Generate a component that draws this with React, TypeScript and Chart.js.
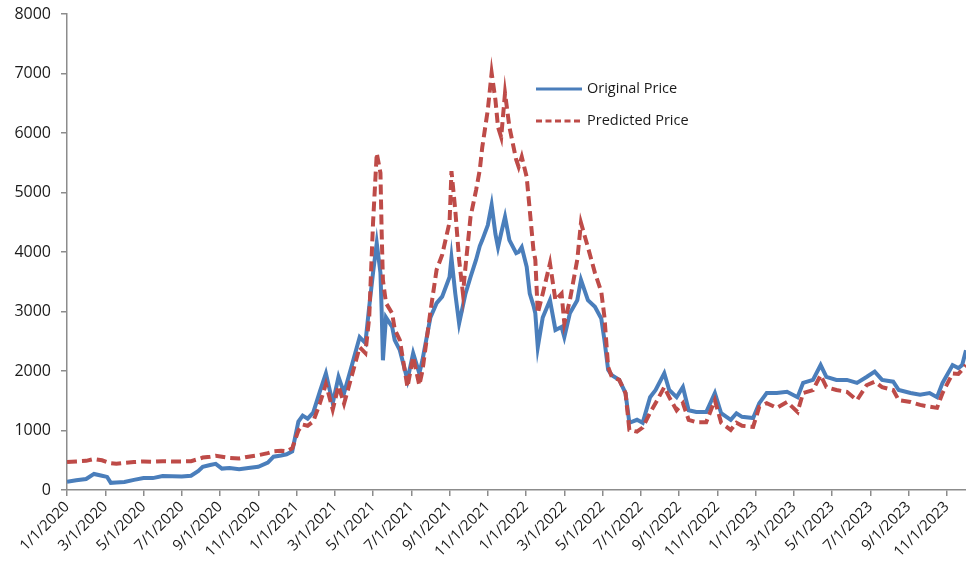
import React, { useEffect, useRef } from "react";
import { Chart, registerables } from "chart.js";

Chart.register(...registerables);

// ---- data ----
const dates: string[] = [
  "2020-01-01", "2020-01-16", "2020-02-01", "2020-02-13", "2020-02-25", "2020-03-04", "2020-03-10", "2020-03-19",
  "2020-04-01", "2020-04-16", "2020-05-01", "2020-05-16", "2020-06-01", "2020-06-16", "2020-07-01", "2020-07-16",
  "2020-07-28", "2020-08-04", "2020-08-16", "2020-08-25", "2020-09-04", "2020-09-16", "2020-10-01", "2020-10-16",
  "2020-11-01", "2020-11-16", "2020-11-25", "2020-12-07", "2020-12-16", "2020-12-25",
  "2021-01-04", "2021-01-11", "2021-01-19", "2021-01-28", "2021-02-07", "2021-02-16", "2021-02-26", "2021-03-07",
  "2021-03-16", "2021-03-28", "2021-04-10", "2021-04-19", "2021-04-25", "2021-05-01", "2021-05-07", "2021-05-13",
  "2021-05-15", "2021-05-17", "2021-05-22", "2021-06-01", "2021-06-05", "2021-06-13", "2021-06-25", "2021-07-04",
  "2021-07-14", "2021-07-19", "2021-08-01", "2021-08-11", "2021-08-20", "2021-09-01", "2021-09-04", "2021-09-10",
  "2021-09-16", "2021-09-22", "2021-09-26", "2021-10-04", "2021-10-13", "2021-10-19", "2021-10-23", "2021-11-01",
  "2021-11-07", "2021-11-13", "2021-11-17", "2021-11-22", "2021-11-28", "2021-12-05", "2021-12-16", "2021-12-20",
  "2021-12-25", "2022-01-02", "2022-01-07", "2022-01-13", "2022-01-16", "2022-01-20", "2022-01-28", "2022-02-08",
  "2022-02-16", "2022-02-25", "2022-03-01", "2022-03-10", "2022-03-22", "2022-03-28", "2022-04-08", "2022-04-19",
  "2022-04-29", "2022-05-04", "2022-05-10", "2022-05-16", "2022-05-28", "2022-06-07", "2022-06-13", "2022-06-25",
  "2022-07-04", "2022-07-16", "2022-07-25", "2022-08-08", "2022-08-16", "2022-08-28", "2022-09-07", "2022-09-16",
  "2022-09-28", "2022-10-14", "2022-10-28", "2022-11-07", "2022-11-22", "2022-12-01", "2022-12-10", "2022-12-28",
  "2023-01-07", "2023-01-19", "2023-02-04", "2023-02-19", "2023-03-07", "2023-03-16", "2023-04-01", "2023-04-13",
  "2023-04-22", "2023-05-08", "2023-05-25", "2023-06-10", "2023-06-25", "2023-07-08", "2023-07-20", "2023-08-07",
  "2023-08-16", "2023-09-04", "2023-09-19", "2023-10-04", "2023-10-16", "2023-10-25", "2023-11-10", "2023-11-19",
  "2023-11-25", "2023-12-01",
];

const originalPrice: number[] = [
  140, 165, 185, 270, 240, 220, 120, 125,
  135, 170, 200, 200, 235, 230, 225, 240,
  320, 390, 420, 440, 360, 370, 350, 370,
  390, 460, 560, 580, 600, 650,
  1150, 1250, 1200, 1300, 1650, 1960, 1460, 1900,
  1630, 2070, 2570, 2470, 3080, 3650, 4150, 3650,
  3000, 2180, 2900, 2740, 2520, 2350, 1850, 2300,
  1960, 2180, 2900, 3140, 3250, 3580, 3900, 3300,
  2800, 3100, 3300, 3580, 3870, 4100, 4200, 4450,
  4790, 4300, 4080, 4320, 4590, 4200, 3980, 4000,
  4080, 3750, 3300, 3100, 2970, 2400, 2900, 3190,
  2690, 2740, 2570, 2970, 3190, 3530, 3190, 3080,
  2880, 2520, 2020, 1930, 1850, 1630, 1130, 1180,
  1130, 1560, 1680, 1960, 1680, 1560, 1730, 1340,
  1310, 1310, 1630, 1290, 1180, 1290, 1230, 1210,
  1460, 1630, 1630, 1650, 1560, 1800, 1850, 2100,
  1900, 1850, 1850, 1800, 1900, 1990, 1850, 1820,
  1680, 1630, 1600, 1630, 1560, 1800, 2100, 2050,
  2100, 2350,
];

const predictedPrice: number[] = [
  470, 480, 490, 520, 500, 470, 450, 440,
  455, 470, 480, 475, 485, 480, 480, 485,
  520, 545, 560, 575, 560, 540, 530, 560,
  585, 620, 650, 660, 650, 700,
  1000, 1100, 1080, 1150, 1450, 1780, 1350, 1750,
  1450, 1900, 2400, 2300, 2900, 4490, 5660, 5330,
  4320, 3530, 3140, 2970, 2700, 2520, 1730, 2240,
  1760, 2000, 3000, 3700, 3950, 4500, 5360, 4700,
  3870, 3300, 3750, 4590, 5040, 5380, 5760, 6390,
  7010, 6550, 6100, 5930, 6670, 6100, 5550, 5430,
  5600, 5260, 4700, 4030, 3870, 2970, 3300, 3810,
  3190, 3300, 2800, 3190, 3870, 4490, 4080, 3650,
  3330, 2910, 2070, 1900, 1850, 1630, 1010, 980,
  1050, 1300, 1460, 1730, 1560, 1340, 1460, 1180,
  1140, 1140, 1510, 1130, 1010, 1130, 1080, 1060,
  1400, 1460, 1380, 1480, 1310, 1630, 1680, 1930,
  1730, 1680, 1650, 1510, 1760, 1820, 1730, 1680,
  1510, 1480, 1430, 1400, 1380, 1630, 1960, 1950,
  2020, 2100,
];

const xTickLabels: string[] = [
  "1/1/2020", "3/1/2020", "5/1/2020", "7/1/2020", "9/1/2020", "11/1/2020",
  "1/1/2021", "3/1/2021", "5/1/2021", "7/1/2021", "9/1/2021", "11/1/2021",
  "1/1/2022", "3/1/2022", "5/1/2022", "7/1/2022", "9/1/2022", "11/1/2022",
  "1/1/2023", "3/1/2023", "5/1/2023", "7/1/2023", "9/1/2023", "11/1/2023",
];

const seriesNames: string[] = ["Original Price", "Predicted Price"];
const yTicks: number[] = [0, 1000, 2000, 3000, 4000, 5000, 6000, 7000, 8000];
const xEnd = "2023-12-01";

// ---- helpers ----
function monthIndexFromParts(y: number, m: number, d: number): number {
  const dim = new Date(y, m, 0).getDate();
  return (y - 2020) * 12 + (m - 1) + (d - 1) / dim;
}
function isoToIndex(iso: string): number {
  const [y, m, d] = iso.split("-").map(Number);
  return monthIndexFromParts(y, m, d);
}
function labelToIndex(lbl: string): number {
  const [m, d, y] = lbl.split("/").map(Number);
  return monthIndexFromParts(y, m, d);
}

const FONT = '"Open Sans", "DejaVu Sans", sans-serif';
const BLUE = "#4A7EBB";
const RED = "#BE4B48";

const insideLegend = {
  id: "insideLegend",
  afterDraw(chart: any) {
    const ctx = chart.ctx as CanvasRenderingContext2D;
    chart.data.datasets.forEach((ds: any, i: number) => {
      const y = 89 + i * 32;
      ctx.save();
      ctx.strokeStyle = ds.borderColor;
      ctx.lineWidth = 3;
      ctx.setLineDash(ds.borderDash ? [6, 3.5] : []);
      ctx.beginPath();
      ctx.moveTo(536, y);
      ctx.lineTo(582, y);
      ctx.stroke();
      ctx.setLineDash([]);
      ctx.fillStyle = "#1a1a1a";
      ctx.font = `14.5px ${FONT}`;
      ctx.textBaseline = "middle";
      ctx.textAlign = "left";
      ctx.fillText(ds.label, 587, y);
      ctx.restore();
    });
  },
};

export default function App() {
  const canvasRef = useRef<HTMLCanvasElement | null>(null);

  useEffect(() => {
    if (!canvasRef.current) return;
    const tickValues = xTickLabels.map(labelToIndex);
    const labelFor = (v: number) => {
      const k = tickValues.findIndex((t) => Math.abs(t - v) < 1e-6);
      return k >= 0 ? xTickLabels[k] : "";
    };
    const xs = dates.map(isoToIndex);

    const chart = new Chart(canvasRef.current, {
      type: "line",
      data: {
        datasets: [
          {
            label: seriesNames[0],
            data: xs.map((x, i) => ({ x, y: originalPrice[i] })),
            borderColor: BLUE,
            backgroundColor: BLUE,
            borderWidth: 4,
            pointRadius: 0,
            tension: 0,
            order: 1,
          },
          {
            label: seriesNames[1],
            data: xs.map((x, i) => ({ x, y: predictedPrice[i] })),
            borderColor: RED,
            backgroundColor: RED,
            borderWidth: 4,
            borderDash: [10, 5],
            pointRadius: 0,
            tension: 0,
            order: 0,
          },
        ],
      },
      options: {
        animation: false,
        responsive: true,
        maintainAspectRatio: false,
        layout: { padding: { top: 14, right: 0, left: 0, bottom: 0 } },
        plugins: {
          legend: { display: false },
          tooltip: { enabled: false },
        },
        scales: {
          x: {
            type: "linear",
            min: 0,
            max: isoToIndex(xEnd),
            afterBuildTicks: (scale: any) => {
              scale.ticks = tickValues.map((value) => ({ value }));
            },
            afterFit: (scale: any) => {
              scale.height = 88;
              scale.paddingRight = 0;
            },
            border: { display: true, color: "#8c8c8c", width: 1.5 },
            grid: {
              drawOnChartArea: false,
              drawTicks: true,
              tickLength: 6,
              color: "#8c8c8c",
              lineWidth: 1.5,
            },
            ticks: {
              autoSkip: false,
              minRotation: 45,
              maxRotation: 45,
              padding: 2,
              color: "#1a1a1a",
              font: { family: FONT, size: 15 },
              callback: (v: any) => labelFor(Number(v)),
            },
          },
          y: {
            type: "linear",
            min: yTicks[0],
            max: yTicks[yTicks.length - 1],
            afterBuildTicks: (scale: any) => {
              scale.ticks = yTicks.map((value) => ({ value }));
            },
            afterFit: (scale: any) => {
              scale.width = 67;
              scale.paddingTop = 0;
              scale.paddingBottom = 0;
            },
            border: { display: true, color: "#8c8c8c", width: 1.5 },
            grid: {
              drawOnChartArea: false,
              drawTicks: true,
              tickLength: 6,
              color: "#8c8c8c",
              lineWidth: 1.5,
            },
            ticks: {
              padding: 10,
              color: "#1a1a1a",
              font: { family: FONT, size: 16 },
              callback: (v: any) => String(v),
            },
          },
        },
      },
      plugins: [insideLegend],
    });
    return () => chart.destroy();
  }, []);

  return (
    <div style={{ position: "absolute", left: 0, top: 0, width: 966, height: 578, background: "#fff" }}>
      <canvas ref={canvasRef} />
    </div>
  );
}
